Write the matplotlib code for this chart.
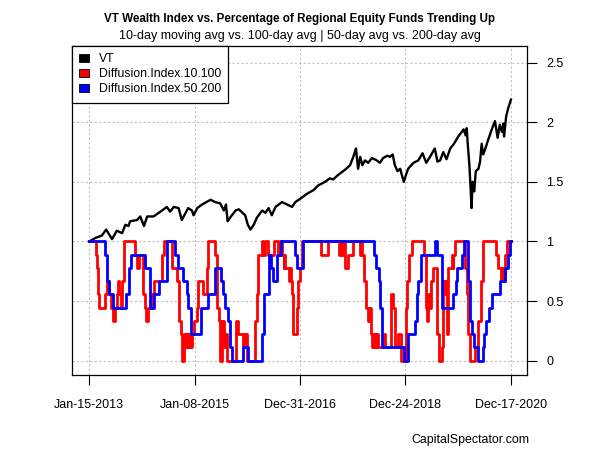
import matplotlib
matplotlib.use("Agg")
import matplotlib.pyplot as plt
from matplotlib.patches import Patch
from datetime import date

plt.rcParams['font.family'] = ['Liberation Sans', 'DejaVu Sans']

# VT wealth index (dates as fractional years)
vt_t = [2013.04, 2013.16, 2013.28, 2013.36, 2013.47, 2013.56, 2013.66, 2013.72, 2013.78, 2013.81,
        2013.94, 2014.00, 2014.07, 2014.13, 2014.25, 2014.41, 2014.50, 2014.56, 2014.63, 2014.72,
        2014.78, 2014.90, 2014.97, 2015.00, 2015.07, 2015.16, 2015.32, 2015.41, 2015.50, 2015.57,
        2015.61, 2015.64, 2015.72, 2015.79, 2015.85, 2015.97, 2016.02, 2016.07, 2016.13, 2016.19,
        2016.29, 2016.35, 2016.41, 2016.47, 2016.54, 2016.66, 2016.76, 2016.85, 2016.91, 2017.04,
        2017.13, 2017.25, 2017.34, 2017.47, 2017.56, 2017.62, 2017.72, 2017.84, 2017.94, 2018.00,
        2018.05, 2018.09, 2018.13, 2018.17, 2018.22, 2018.28, 2018.35, 2018.44, 2018.50, 2018.56,
        2018.64, 2018.69, 2018.74, 2018.78, 2018.83, 2018.88, 2018.91, 2018.95, 2018.99, 2019.03,
        2019.13, 2019.22, 2019.30, 2019.37, 2019.44, 2019.53, 2019.58, 2019.63, 2019.69, 2019.75,
        2019.82, 2019.89, 2019.97, 2020.07, 2020.11, 2020.13, 2020.15, 2020.18, 2020.20, 2020.22,
        2020.24, 2020.27, 2020.30, 2020.35, 2020.38, 2020.41, 2020.44, 2020.48, 2020.53, 2020.60,
        2020.66, 2020.71, 2020.75, 2020.79, 2020.82, 2020.83, 2020.87, 2020.91, 2020.96]
vt = [1.00, 1.03, 1.05, 1.10, 1.02, 1.09, 1.07, 1.14, 1.13, 1.17,
      1.18, 1.21, 1.13, 1.21, 1.21, 1.26, 1.29, 1.25, 1.29, 1.28,
      1.18, 1.28, 1.26, 1.22, 1.28, 1.31, 1.35, 1.33, 1.32, 1.26,
      1.31, 1.17, 1.22, 1.26, 1.27, 1.22, 1.14, 1.10, 1.14, 1.20,
      1.26, 1.24, 1.28, 1.22, 1.29, 1.33, 1.31, 1.29, 1.33, 1.37,
      1.40, 1.43, 1.47, 1.50, 1.53, 1.52, 1.56, 1.60, 1.64, 1.71,
      1.78, 1.61, 1.71, 1.64, 1.68, 1.66, 1.70, 1.68, 1.66, 1.70,
      1.72, 1.71, 1.73, 1.64, 1.59, 1.61, 1.56, 1.50, 1.56, 1.61,
      1.66, 1.68, 1.74, 1.66, 1.71, 1.78, 1.67, 1.68, 1.75, 1.69,
      1.78, 1.82, 1.88, 1.94, 1.89, 1.95, 1.81, 1.64, 1.47, 1.28,
      1.50, 1.42, 1.59, 1.61, 1.67, 1.82, 1.73, 1.78, 1.85, 1.94,
      2.01, 1.87, 1.98, 1.92, 1.99, 1.88, 2.05, 2.12, 2.19]

n_funds = 9

# 10-day vs 100-day: number of funds trending up, at each change date
di10_t = [2013.04, 2013.16, 2013.19, 2013.21, 2013.23, 2013.33, 2013.38, 2013.41, 2013.46, 2013.48,
          2013.53, 2013.56, 2013.59, 2013.61, 2013.63, 2013.65, 2013.69, 2013.91, 2013.94, 2013.97,
          2014.05, 2014.08, 2014.11, 2014.15, 2014.22, 2014.25, 2014.41, 2014.44, 2014.60, 2014.69,
          2014.72, 2014.77, 2014.78, 2014.82, 2014.84, 2014.86, 2014.88, 2014.90, 2014.92, 2014.93,
          2014.95, 2014.97, 2015.00, 2015.06, 2015.09, 2015.17, 2015.25, 2015.28, 2015.40, 2015.44,
          2015.48, 2015.50, 2015.53, 2015.54, 2015.56, 2015.58, 2015.60, 2015.62, 2015.63, 2015.79,
          2015.83, 2015.93, 2015.95, 2015.97, 2015.99, 2016.01, 2016.15, 2016.19, 2016.22, 2016.28,
          2016.31, 2016.34, 2016.39, 2016.52, 2016.59, 2016.62, 2016.67, 2016.69, 2016.70, 2016.72,
          2016.79, 2016.81, 2016.83, 2016.84, 2016.87, 2016.94, 2016.97, 2017.00, 2017.03, 2017.39,
          2017.53, 2017.74, 2017.76, 2017.78, 2017.81, 2017.84, 2017.90, 2017.99, 2018.12, 2018.14,
          2018.16, 2018.21, 2018.24, 2018.27, 2018.29, 2018.30, 2018.32, 2018.34, 2018.36, 2018.38,
          2018.39, 2018.41, 2018.43, 2018.45, 2018.46, 2018.57, 2018.59, 2018.71, 2018.75, 2018.79,
          2018.84, 2018.89, 2018.90, 2018.99, 2019.01, 2019.05, 2019.10, 2019.33, 2019.36, 2019.37,
          2019.39, 2019.41, 2019.43, 2019.45, 2019.49, 2019.58, 2019.60, 2019.66, 2019.69, 2019.71,
          2019.73, 2019.75, 2019.78, 2019.85, 2019.87, 2019.88, 2019.91, 2020.10, 2020.13, 2020.16,
          2020.19, 2020.28, 2020.35, 2020.39, 2020.43, 2020.68, 2020.72, 2020.78, 2020.80, 2020.82,
          2020.84, 2020.85, 2020.88, 2020.96]
di10_up = [9, 8, 7, 5, 4, 5, 6, 5, 4, 3,
           4, 5, 6, 5, 4, 6, 9, 8, 7, 8,
           5, 4, 3, 4, 5, 6, 8, 9, 7, 6,
           3, 2, 0, 2, 1, 2, 1, 2, 1, 2,
           1, 2, 3, 4, 6, 5, 7, 9, 8, 4,
           3, 0, 3, 1, 3, 1, 2, 1, 0, 3,
           2, 1, 2, 1, 2, 0, 3, 5, 8, 9,
           8, 9, 8, 9, 8, 9, 8, 7, 8, 7,
           6, 7, 6, 5, 2, 4, 6, 7, 9, 8,
           9, 8, 9, 8, 9, 7, 8, 9, 8, 9,
           8, 6, 4, 3, 4, 3, 4, 2, 1, 2,
           1, 2, 1, 2, 1, 2, 1, 5, 4, 1,
           2, 1, 0, 4, 6, 8, 9, 8, 7, 4,
           3, 5, 4, 6, 7, 2, 0, 1, 6, 5,
           6, 2, 7, 8, 7, 8, 9, 7, 5, 2,
           0, 1, 3, 6, 9, 8, 7, 6, 7, 6,
           7, 8, 9, 9]

# 50-day vs 200-day
di50_t = [2013.04, 2013.34, 2013.38, 2013.42, 2013.48, 2013.73, 2013.79, 2013.82, 2014.09, 2014.18,
          2014.26, 2014.36, 2014.51, 2014.65, 2014.71, 2014.80, 2014.87, 2014.90, 2014.95, 2015.15,
          2015.28, 2015.40, 2015.52, 2015.56, 2015.60, 2015.65, 2015.69, 2015.73, 2015.92, 2016.02,
          2016.29, 2016.32, 2016.42, 2016.46, 2016.50, 2016.56, 2016.64, 2016.91, 2016.94, 2017.06,
          2018.39, 2018.43, 2018.48, 2018.51, 2018.54, 2018.95, 2019.03, 2019.16, 2019.19, 2019.22,
          2019.27, 2019.53, 2019.58, 2019.66, 2019.88, 2019.92, 2019.95, 2020.05, 2020.08, 2020.16,
          2020.20, 2020.23, 2020.27, 2020.35, 2020.43, 2020.46, 2020.50, 2020.55, 2020.60, 2020.75,
          2020.85, 2020.91, 2020.94, 2020.96]
di50_up = [9, 8, 6, 5, 4, 5, 7, 8, 7, 4,
           5, 6, 9, 8, 7, 6, 5, 4, 2, 4,
           5, 7, 6, 5, 4, 3, 1, 0, 1, 0,
           2, 5, 8, 7, 6, 8, 9, 8, 7, 9,
           8, 7, 6, 4, 1, 0, 2, 3, 5, 6,
           8, 9, 8, 4, 5, 6, 7, 8, 9, 6,
           3, 2, 1, 0, 1, 2, 3, 4, 5, 6,
           7, 8, 9, 9]

tick_dates = [date(2013, 1, 15), date(2015, 1, 8), date(2016, 12, 31), date(2018, 12, 24), date(2020, 12, 17)]
tick_labels = [d.strftime('%b-%d-%Y') for d in tick_dates]


def frac_year(d):
    start = date(d.year, 1, 1)
    days = (date(d.year + 1, 1, 1) - start).days
    return d.year + (d - start).days / days


fig = plt.figure(figsize=(6, 4.5), dpi=100)
ax = fig.add_axes([0.1195, 0.1667, 0.7588, 0.7311])

ax.plot(vt_t, vt, color='black', lw=1.7, zorder=3)
ax.plot(di10_t, [v / n_funds for v in di10_up], color='red', lw=2, drawstyle='steps-post', zorder=4)
ax.plot(di50_t, [v / n_funds for v in di50_up], color='blue', lw=2, drawstyle='steps-post', zorder=5)

ax.set_xlim(2012.713, 2021.261)
ax.set_ylim(-0.12, 2.64)

ax.set_xticks([frac_year(d) for d in tick_dates])
ax.set_xticklabels(tick_labels, fontsize=9)
ax.set_yticks([0, 0.5, 1, 1.5, 2, 2.5])
ax.set_yticklabels(['0', '0.5', '1', '1.5', '2', '2.5'], fontsize=9)
ax.yaxis.tick_right()
ax.tick_params(axis='y', length=7, width=0.8, pad=7)
ax.tick_params(axis='x', length=7, width=0.8, pad=10)
for s in ax.spines.values():
    s.set_linewidth(0.9)

ax.grid(True, color='#c0c0c0', lw=0.8, linestyle=(0, (2, 2)))
ax.set_axisbelow(True)

handles = [Patch(facecolor=c, edgecolor='black', lw=0.6) for c in ['black', 'red', 'blue']]
leg = ax.legend(handles, ['VT', 'Diffusion.Index.10.100', 'Diffusion.Index.50.200'],
                loc='upper left', borderaxespad=0, fontsize=8.8, fancybox=False,
                edgecolor='black', framealpha=1, handlelength=0.8, handleheight=0.7,
                handletextpad=0.8, labelspacing=0.25, borderpad=0.6)
leg.get_frame().set_linewidth(0.9)
leg.set_zorder(10)

fig.text(0.4991, 1 - 19 / 450, 'VT Wealth Index vs. Percentage of Regional Equity Funds Trending Up',
         ha='center', va='center', fontsize=8.4, fontweight='bold')
fig.text(0.4991, 1 - 36 / 450, '10-day moving avg vs. 100-day avg | 50-day avg vs. 200-day avg',
         ha='center', va='center', fontsize=9)
fig.text(530 / 600, 1 - 440 / 450, 'CapitalSpectator.com', ha='right', va='center', fontsize=8.9)

fig.savefig('out.png', dpi=100)
